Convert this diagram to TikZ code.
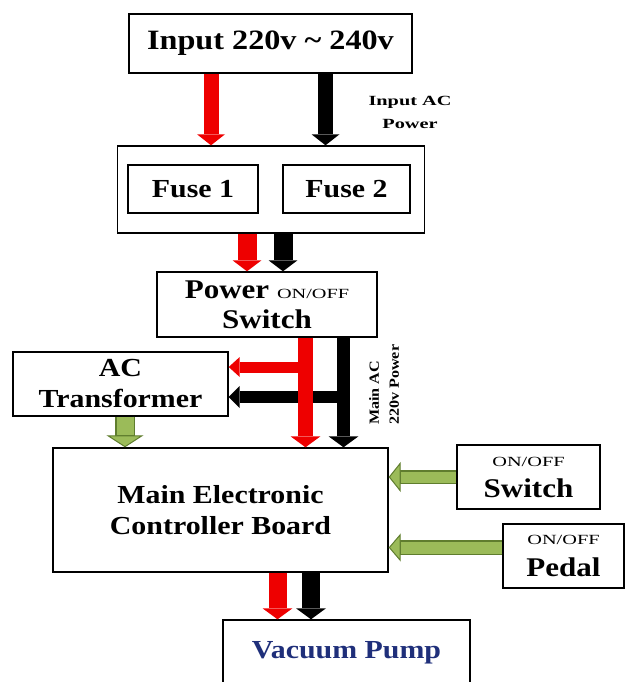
\documentclass[tikz,border=0pt]{standalone}
\usepackage{fontspec}
\setmainfont{Liberation Serif}[FakeStretch=1.15]
\newfontfamily\widefont{Liberation Serif}[FakeStretch=1.45]
\usetikzlibrary{arrows.meta}
\definecolor{livewire}{HTML}{EE0000}
\definecolor{lowfill}{HTML}{9BBB59}
\definecolor{lowedge}{HTML}{5F7D2E}
\definecolor{pumpblue}{HTML}{1F2F7A}
\newcommand{\onoff}{{\widefont\mdseries\fontsize{14}{14}\selectfont ON/OFF}}

\begin{document}
\begin{tikzpicture}[
  x=1pt, y=-1pt,
  font=\bfseries\fontsize{26}{31}\selectfont,
  box/.style={draw, line width=1.4pt, fill=white, align=center, inner sep=0pt},
  feed/.style n args={3}{draw=#1, line width=#2,
    -{Triangle[width=#3, length=11pt, line width=0pt]}},
  lowfeed/.style n args={3}{draw=lowedge, line width=#1,
    -{Triangle[width=#3, length=12pt, line width=1pt, fill=lowfill]},
    postaction={draw=lowfill, line width=#2, -, shorten >=12pt}},
  note/.style={font=\widefont\bfseries\fontsize{14}{23}\selectfont,
    align=center, inner sep=0pt}
]
  \useasboundingbox (0,0) rectangle (626,682);

  % boxes
  \node[box, minimum width=283pt, minimum height=59pt,
    font=\bfseries\fontsize{28}{31}\selectfont] (input) at (270.5,43.5)
    {Input 220v \textasciitilde{} 240v};
  \node[box, minimum width=307pt, minimum height=87pt] (fuses) at (271,189.5) {};
  \node[box, minimum width=130pt, minimum height=48pt] (fuse1) at (193,189) {Fuse 1};
  \node[box, minimum width=127pt, minimum height=48pt] (fuse2) at (346.5,189) {Fuse 2};
  \node[box, minimum width=220pt, minimum height=65pt,
    font=\bfseries\fontsize{27}{30}\selectfont] (power) at (267,304.5)
    {Power \onoff\\Switch};
  \node[box, minimum width=215pt, minimum height=64pt] (actrans) at (120.5,384)
    {AC\\Transformer};
  \node[box, minimum width=335pt, minimum height=124pt] (main) at (220.5,510)
    {Main Electronic\\Controller Board};
  \node[box, minimum width=143pt, minimum height=64pt,
    font=\bfseries\fontsize{27}{31}\selectfont] (onsw) at (528.5,477)
    {\onoff\\Switch};
  \node[box, minimum width=121pt, minimum height=64pt,
    font=\bfseries\fontsize{27}{32}\selectfont] (pedal) at (563.5,556)
    {\onoff\\Pedal};
  \node[box, minimum width=247pt, minimum height=66pt, text=pumpblue]
    (vacuum) at (346.5,653) {Vacuum Pump};

  % labels
  \node[note] (inlabel) at (410,112) {Input AC\\Power};
  \node[note, font=\bfseries\fontsize{14}{20}\selectfont, rotate=90,
    anchor=west, align=left] (mainlabel) at (384,425) {Main AC\\220v Power};

  % mains feed
  \foreach \dx/\col in {-59.5/livewire, 55/black}
    \draw[feed={\col}{15pt}{28pt}] ([xshift=\dx pt]input.south)
      -- ([xshift=\dx pt]input.south |- fuses.north);
  \foreach \dx/\col in {-24/livewire, 12/black}
    \draw[feed={\col}{19pt}{29pt}] ([xshift=\dx pt]fuses.south)
      -- ([xshift=\dx pt]fuses.south |- power.north);

  \coordinate (rtap) at ([yshift=17pt]actrans.east);
  \coordinate (btap) at ([yshift=-13pt]actrans.east);
  \draw[feed={black}{12pt}{22pt}] ([xshift=76.5pt]power.south |- btap) -- (btap);
  \draw[feed={black}{13pt}{30pt}] ([xshift=76.5pt]power.south)
    -- ([xshift=76.5pt]power.south |- main.north);
  \draw[feed={livewire}{15pt}{30pt}] ([xshift=38.5pt]power.south)
    -- ([xshift=38.5pt]power.south |- main.north);
  \draw[feed={livewire}{11pt}{20pt}] ([xshift=38.5pt]power.south |- rtap) -- (rtap);

  \foreach \dx/\col in {57/livewire, 90.5/black}
    \draw[feed={\col}{18pt}{30pt}] ([xshift=\dx pt]main.south)
      -- ([xshift=\dx pt]main.south |- vacuum.north);

  % low voltage
  \draw[lowfeed={20pt}{17pt}{37pt}] ([xshift=4.5pt]actrans.south)
    -- ([xshift=4.5pt]actrans.south |- main.north);
  \draw[lowfeed={14pt}{11pt}{30pt}] (onsw.west) -- (onsw.west -| main.east);
  \draw[lowfeed={15pt}{12pt}{28pt}] ([yshift=8.5pt]pedal.west)
    -- ([yshift=8.5pt]pedal.west -| main.east);
\end{tikzpicture}
\end{document}
